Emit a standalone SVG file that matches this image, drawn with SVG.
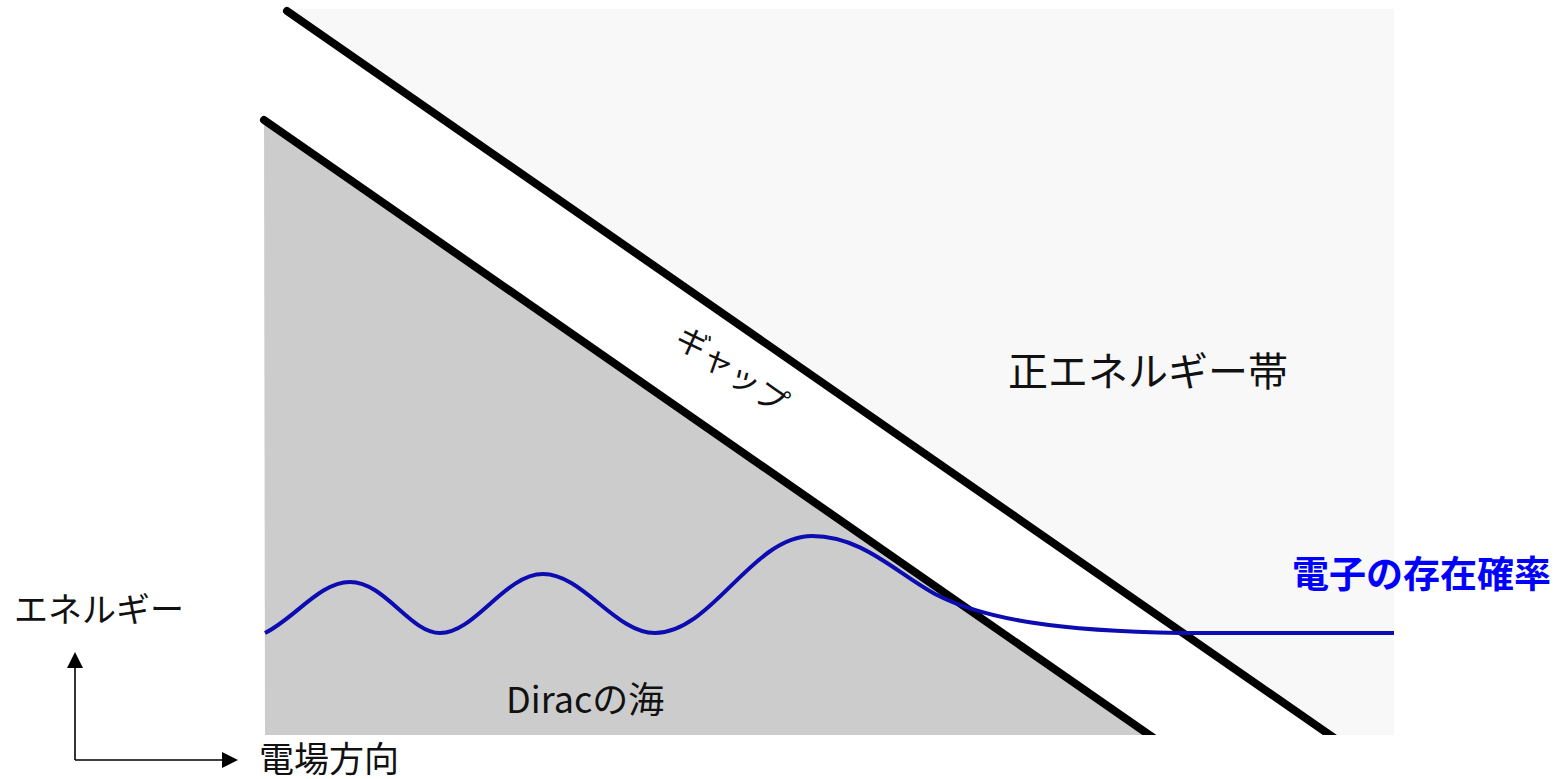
<svg xmlns="http://www.w3.org/2000/svg" width="1559" height="779" viewBox="0 0 1559 779">
<style>
text{font-family:"Noto Sans CJK JP","Noto Sans",sans-serif;fill:#111}
.band{stroke:#000;stroke-width:8;stroke-linecap:round;fill:none}
.axis{stroke:#000;stroke-width:1.6;fill:none}
</style>
<defs>
<clipPath id="clip"><rect x="0" y="0" width="1559" height="735"/></clipPath>
<marker id="ah" viewBox="0 0 16 16" refX="0" refY="8" markerWidth="16" markerHeight="16" markerUnits="userSpaceOnUse" orient="auto"><path d="M0,0 L16,8 L0,16 Z" fill="#000"/></marker>
</defs>
<rect width="1559" height="779" fill="#fff"/>
<g id="regions">
<polygon points="287,9 1394,9 1394,735 1330,735" fill="#f8f8f8"/>
<polygon points="264,120 1150,735 265,735" fill="#cccccc"/>
</g>
<g id="band-edges" clip-path="url(#clip)">
<line class="band" x1="287" y1="11" x2="1340" y2="742"/>
<line class="band" x1="264" y1="120" x2="1158" y2="741"/>
</g>
<g id="wave">
<path d="M265,633 C295,618 320,582 350,582 C385,582 410,633 440,633 C475,633 505,574 543,574 C583,574 615,633 655,633 C712,633 752,536 812,536 C862,536 895,572 935,594 C985,620 1060,631 1180,633 L1394,633" fill="none" stroke="#0c0cb0" stroke-width="4"/>
</g>
<g id="axes">
<line class="axis" x1="75" y1="760" x2="75" y2="668" marker-end="url(#ah)"/>
<line class="axis" x1="75" y1="760" x2="222" y2="760" marker-end="url(#ah)"/>
</g>
<g id="labels">
<text x="14" y="622" font-size="34">エネルギー</text>
<text x="259" y="772" font-size="35">電場方向</text>
<text x="1008" y="386" font-size="40">正エネルギー帯</text>
<text x="506" y="713" font-size="36">Diracの海</text>
<text x="1292" y="588" font-size="37" font-weight="bold" style="fill:#0000ff">電子の存在確率</text>
<text x="0" y="0" font-size="32" transform="translate(733,368) rotate(35)" text-anchor="middle" dominant-baseline="central">ギャップ</text>
</g>
</svg>
